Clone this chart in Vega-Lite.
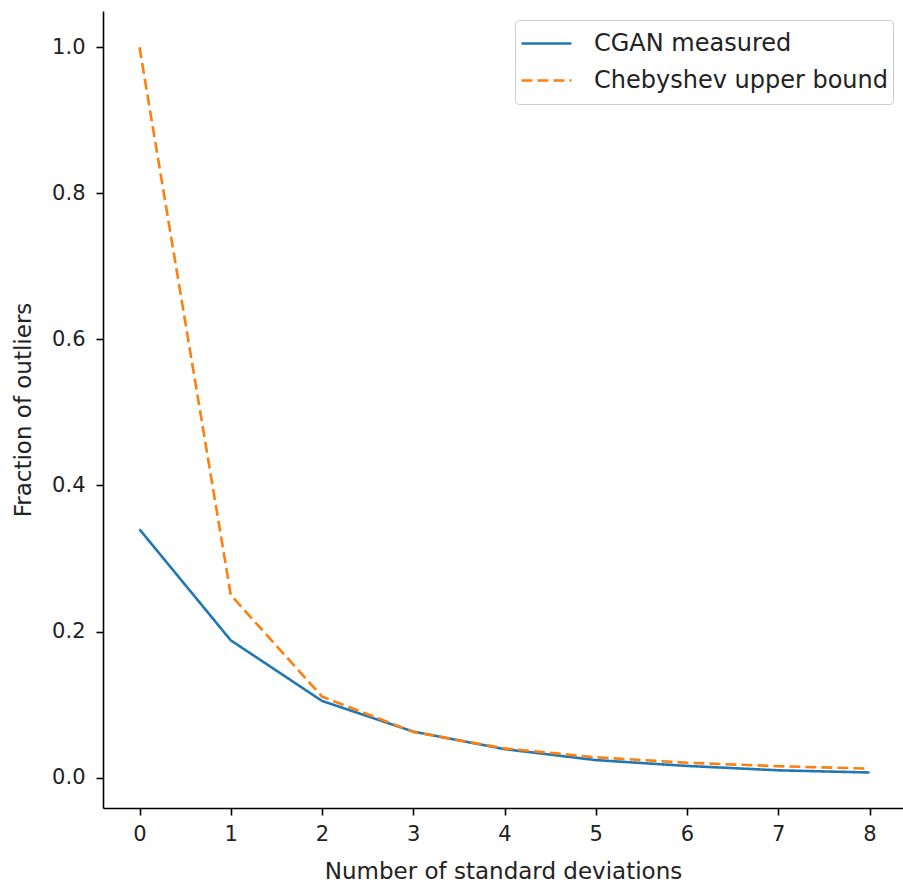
{
  "$schema": "https://vega.github.io/schema/vega-lite/v6.json",
  "width": 800,
  "height": 797,
  "autosize": {"type": "none"},
  "padding": {"left": 103, "top": 11, "right": 0, "bottom": 78},
  "background": "white",
  "config": {
    "view": {"stroke": null},
    "font": "DejaVu Sans",
    "axis": {
      "grid": false,
      "domainColor": "black",
      "domainWidth": 1.6,
      "tickColor": "black",
      "tickWidth": 1.6,
      "tickSize": 7,
      "labelFont": "DejaVu Sans",
      "labelFontSize": 21,
      "labelColor": "#222222",
      "titleFont": "DejaVu Sans",
      "titleFontSize": 23,
      "titleFontWeight": "normal",
      "titleColor": "#222222"
    }
  },
  "datasets": {
    "curves": [
      {"k": 0, "series": "CGAN measured", "value": 0.340},
      {"k": 1, "series": "CGAN measured", "value": 0.188},
      {"k": 2, "series": "CGAN measured", "value": 0.105},
      {"k": 3, "series": "CGAN measured", "value": 0.063},
      {"k": 4, "series": "CGAN measured", "value": 0.039},
      {"k": 5, "series": "CGAN measured", "value": 0.024},
      {"k": 6, "series": "CGAN measured", "value": 0.016},
      {"k": 7, "series": "CGAN measured", "value": 0.010},
      {"k": 8, "series": "CGAN measured", "value": 0.007},
      {"k": 0, "series": "Chebyshev upper bound", "value": 1.0},
      {"k": 1, "series": "Chebyshev upper bound", "value": 0.25},
      {"k": 2, "series": "Chebyshev upper bound", "value": 0.111},
      {"k": 3, "series": "Chebyshev upper bound", "value": 0.0625},
      {"k": 4, "series": "Chebyshev upper bound", "value": 0.04},
      {"k": 5, "series": "Chebyshev upper bound", "value": 0.0278},
      {"k": 6, "series": "Chebyshev upper bound", "value": 0.0204},
      {"k": 7, "series": "Chebyshev upper bound", "value": 0.0156},
      {"k": 8, "series": "Chebyshev upper bound", "value": 0.0123}
    ]
  },
  "layer": [
    {
      "data": {"name": "curves"},
      "mark": {"type": "line", "strokeWidth": 2.6, "clip": true},
      "encoding": {
        "x": {
          "field": "k",
          "type": "quantitative",
          "scale": {"domain": [-0.4, 8.367], "nice": false, "zero": false},
          "axis": {
            "values": [0, 1, 2, 3, 4, 5, 6, 7, 8],
            "format": "d",
            "labelPadding": 8,
            "labelFlush": false,
            "title": "Number of standard deviations",
            "titleBaseline": "alphabetic",
            "titleY": 70
          }
        },
        "y": {
          "field": "value",
          "type": "quantitative",
          "scale": {"domain": [-0.0416, 1.0496], "nice": false, "zero": false},
          "axis": {
            "values": [0, 0.2, 0.4, 0.6, 0.8, 1.0],
            "format": ".1f",
            "labelPadding": 11,
            "labelFlush": false,
            "title": "Fraction of outliers",
            "titleBaseline": "alphabetic",
            "titleX": -73,
            "titleAngle": -90
          }
        },
        "color": {
          "field": "series",
          "type": "nominal",
          "scale": {
            "domain": ["CGAN measured", "Chebyshev upper bound"],
            "range": ["#1f77b4", "#ff7f0e"]
          },
          "legend": {
            "title": null,
            "orient": "none",
            "legendX": 412,
            "legendY": 9,
            "symbolType": "stroke",
            "symbolSize": 2500,
            "symbolStrokeWidth": 2.6,
            "labelFont": "DejaVu Sans",
            "labelFontSize": 24,
            "labelColor": "#222222",
            "labelOffset": 21,
            "labelLimit": 400,
            "clipHeight": 37,
            "padding": 5,
            "rowPadding": 0,
            "fillColor": "white",
            "strokeColor": "#cccccc",
            "cornerRadius": 4
          }
        },
        "strokeDash": {
          "field": "series",
          "type": "nominal",
          "scale": {
            "domain": ["CGAN measured", "Chebyshev upper bound"],
            "range": [[1, 0], [11, 5]]
          },
          "legend": null
        }
      }
    },
    {
      "mark": {"type": "rule", "color": "black", "strokeWidth": 1.6},
      "encoding": {"y": {"datum": 1.0496}}
    }
  ]
}
